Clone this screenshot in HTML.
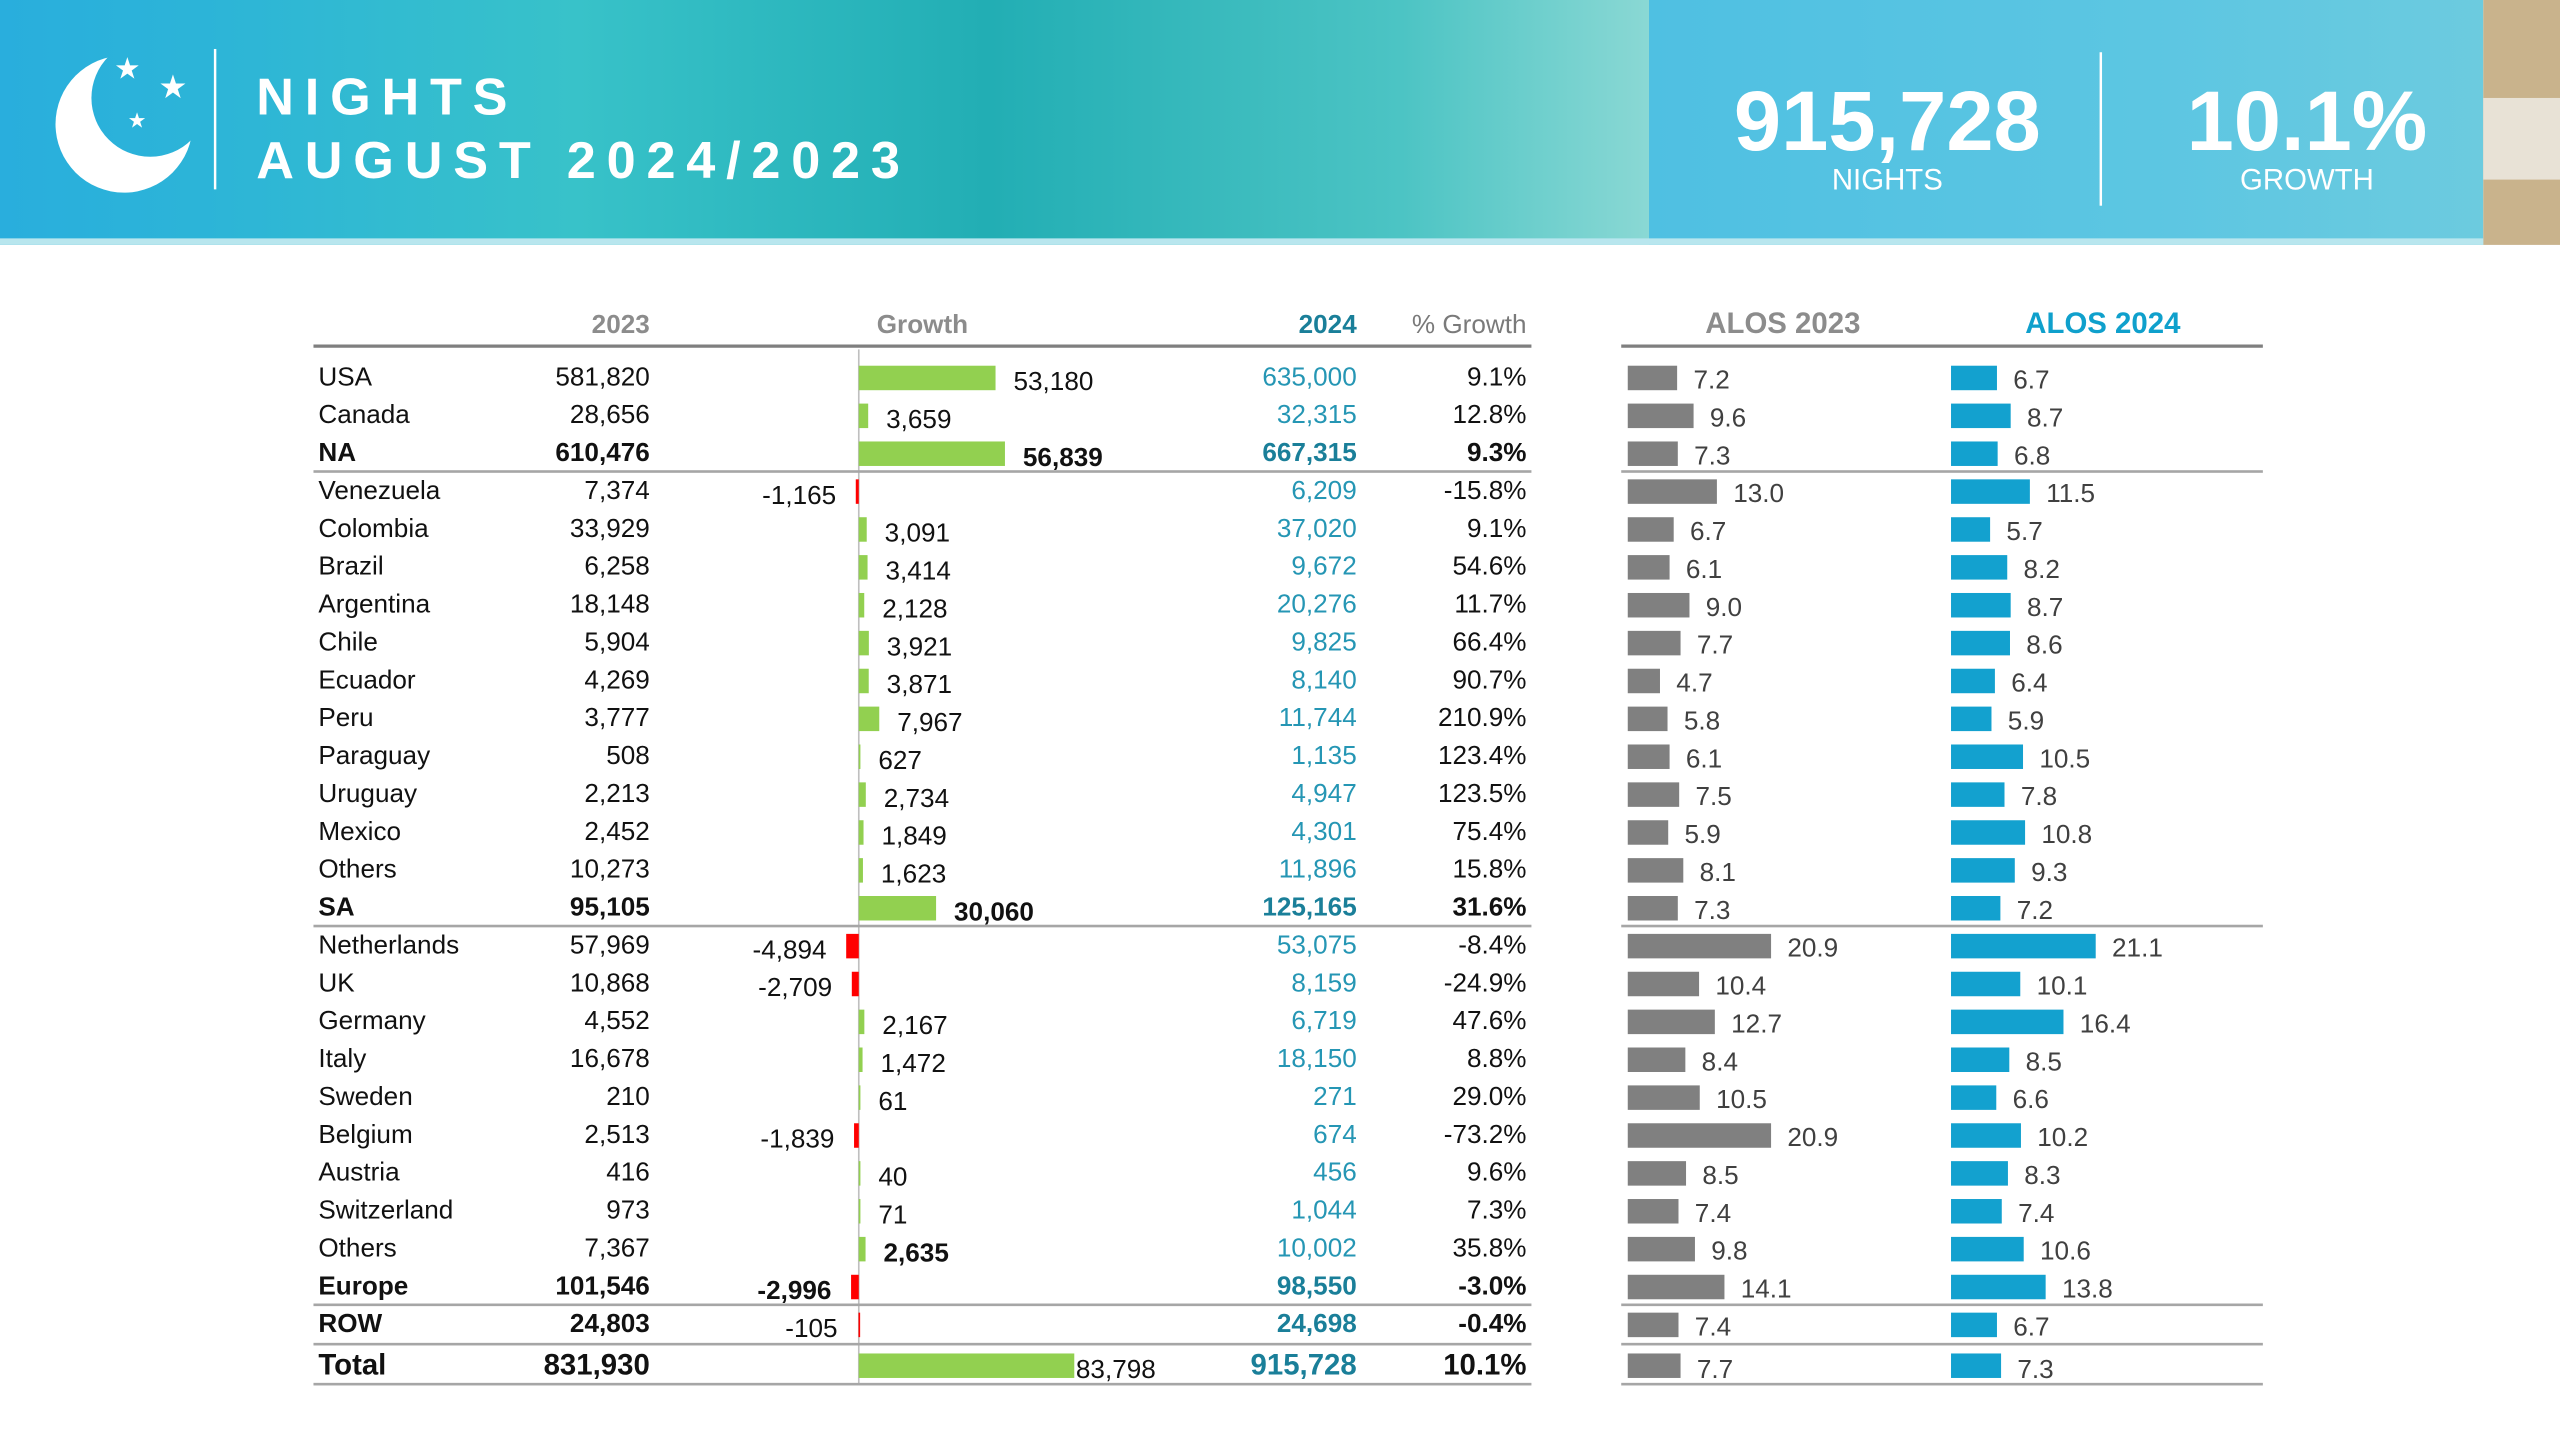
<!DOCTYPE html>
<html><head><meta charset="utf-8"><style>
html,body{margin:0;padding:0;background:#fff;}
svg{display:block;font-family:"Liberation Sans",Arial,sans-serif;}
</style></head><body>
<svg id="chart" width="2560" height="1440" viewBox="0 0 1568 882" xmlns="http://www.w3.org/2000/svg">
<defs>
<linearGradient id="sea" x1="0" y1="0" x2="1" y2="0">
<stop offset="0" stop-color="#29aedd"/><stop offset="0.12" stop-color="#2cb4d8"/>
<stop offset="0.35" stop-color="#38c2c9"/><stop offset="0.6" stop-color="#22aeb4"/>
<stop offset="0.85" stop-color="#4cc4c4"/><stop offset="1" stop-color="#8ad8d4"/>
</linearGradient>
<linearGradient id="panel" x1="0" y1="0" x2="1" y2="0">
<stop offset="0" stop-color="#4fc0e2"/><stop offset="0.6" stop-color="#5cc6e2"/><stop offset="1" stop-color="#6ccbdf"/>
</linearGradient>
<mask id="moonmask"><rect x="0" y="0" width="200" height="150" fill="#fff"/><circle cx="92" cy="60" r="36" fill="#000"/></mask>
</defs>
<g>
<rect x="0" y="0" width="1010" height="150" fill="url(#sea)"/>
<rect x="1010" y="0" width="511" height="150" fill="url(#panel)"/>
<rect x="1521" y="0" width="47" height="150" fill="#c9b38c"/>
<rect x="1521" y="60" width="47" height="50" fill="#e8e2d6"/>
<rect x="0" y="146" width="1521" height="4" fill="#b8e6ee"/>
<circle cx="76" cy="76" r="42" fill="#fff" mask="url(#moonmask)"/>
<text x="78" y="48" font-size="18" fill="#fff" text-anchor="middle">★</text>
<text x="106" y="60" font-size="20" fill="#fff" text-anchor="middle">★</text>
<text x="84" y="78" font-size="13" fill="#fff" text-anchor="middle">★</text>
<rect x="131" y="30" width="1.5" height="86" fill="#fff"/>
<text x="157" y="70" font-size="32" font-weight="bold" fill="#fff" letter-spacing="6.6">NIGHTS</text>
<text x="157" y="109" font-size="32" font-weight="bold" fill="#fff" letter-spacing="6.6">AUGUST 2024/2023</text>
<text x="1156" y="92" font-size="52" font-weight="bold" fill="#fff" text-anchor="middle">915,728</text>
<text x="1156" y="116" font-size="18" fill="#fff" text-anchor="middle">NIGHTS</text>
<rect x="1286" y="32" width="1.5" height="94" fill="#fff"/>
<text x="1413" y="92" font-size="52" font-weight="bold" fill="#fff" text-anchor="middle">10.1%</text>
<text x="1413" y="116" font-size="18" fill="#fff" text-anchor="middle">GROWTH</text>
</g>
<g font-weight="bold">
<text x="398" y="204" font-size="16" fill="#8c8c8c" text-anchor="end">2023</text>
<text x="565" y="204" font-size="16" fill="#8c8c8c" text-anchor="middle">Growth</text>
<text x="831" y="204" font-size="16" fill="#1a7f99" text-anchor="end">2024</text>
<text x="935" y="204" font-size="16" fill="#7a7a7a" text-anchor="end" font-weight="normal">% Growth</text>
<text x="1092" y="204" font-size="18" fill="#8c8c8c" text-anchor="middle">ALOS 2023</text>
<text x="1288" y="204" font-size="18" fill="#0fa0cc" text-anchor="middle">ALOS 2024</text>
<rect x="192" y="211" width="746" height="2" fill="#7f7f7f"/>
<rect x="993" y="211" width="393" height="2" fill="#7f7f7f"/>
</g>
<rect x="525.5" y="214" width="1" height="634" fill="#bfbfbf"/>
<g id="rows"></g>
</svg>
<script>
const names=["USA","Canada","NA","Venezuela","Colombia","Brazil","Argentina","Chile","Ecuador","Peru","Paraguay","Uruguay","Mexico","Others","SA","Netherlands","UK","Germany","Italy","Sweden","Belgium","Austria","Switzerland","Others","Europe","ROW","Total"];
const v2023=[581820,28656,610476,7374,33929,6258,18148,5904,4269,3777,508,2213,2452,10273,95105,57969,10868,4552,16678,210,2513,416,973,7367,101546,24803,831930];
const growth=[53180,3659,56839,-1165,3091,3414,2128,3921,3871,7967,627,2734,1849,1623,30060,-4894,-2709,2167,1472,61,-1839,40,71,2635,-2996,-105,83798];
const v2024=[635000,32315,667315,6209,37020,9672,20276,9825,8140,11744,1135,4947,4301,11896,125165,53075,8159,6719,18150,271,674,456,1044,10002,98550,24698,915728];
const pct=["9.1%","12.8%","9.3%","-15.8%","9.1%","54.6%","11.7%","66.4%","90.7%","210.9%","123.4%","123.5%","75.4%","15.8%","31.6%","-8.4%","-24.9%","47.6%","8.8%","29.0%","-73.2%","9.6%","7.3%","35.8%","-3.0%","-0.4%","10.1%"];
const alos23=[7.2,9.6,7.3,13.0,6.7,6.1,9.0,7.7,4.7,5.8,6.1,7.5,5.9,8.1,7.3,20.9,10.4,12.7,8.4,10.5,20.9,8.5,7.4,9.8,14.1,7.4,7.7];
const alos24=[6.7,8.7,6.8,11.5,5.7,8.2,8.7,8.6,6.4,5.9,10.5,7.8,10.8,9.3,7.2,21.1,10.1,16.4,8.5,6.6,10.2,8.3,7.4,10.6,13.8,6.7,7.3];
const boldRows=["NA","SA","Europe","ROW","Total"];
const NS="http://www.w3.org/2000/svg";
const g=document.getElementById('rows');
const fmt=n=>n.toLocaleString('en-US');
const gx=v=>526+v*132/83798;
const ax23=v=>997+v*4.2;
const ax24=v=>1195+v*4.2;
const rowY=i=>i===26?836:231+i*23.2;
function mk(tag,attrs,txt){const e=document.createElementNS(NS,tag);for(const k in attrs)e.setAttribute(k,attrs[k]);if(txt!==undefined)e.textContent=txt;g.appendChild(e);return e;}
names.forEach((n,i)=>{
  const y=rowY(i);const isB=boldRows.includes(n);const isTot=i===26;
  const fs=isTot?18:16;const fw=isB?"bold":"normal";const ty=y+5+(isTot?1:0);
  let e=mk('text',{x:195,y:ty,'font-size':fs,'font-weight':fw,fill:'#111'},n);
  
  e=mk('text',{x:398,y:ty,'font-size':fs,'font-weight':fw,fill:'#111','text-anchor':'end'},fmt(v2023[i]));
  
  const gv=growth[i];const x0=gx(0),x1=gx(gv);
  const bw=Math.max(Math.abs(x1-x0),1);
  e=mk('rect',{x:Math.min(x0,x1),y:y-7,width:bw,height:15,fill:gv>=0?'#92d050':'#ff0000'});
  
  const gb=(isB&&!isTot&&n!=="ROW")||(n==="Others"&&i===23)?"bold":"normal";
  if(gv>=0){e=mk('text',{x:Math.max(x1,x0+1)+(isTot?1:11),y:ty+3-(isTot?1:0),'font-size':16,'font-weight':gb,fill:'#111'},fmt(gv));}
  else{e=mk('text',{x:Math.min(x1,x0-1)-12,y:ty+3,'font-size':fs,'font-weight':gb,fill:'#111','text-anchor':'end'},fmt(gv));}
  
  e=mk('text',{x:831,y:ty,'font-size':fs,'font-weight':fw,fill:isB?'#1a7f99':'#2596b4','text-anchor':'end'},fmt(v2024[i]));
  
  e=mk('text',{x:935,y:ty,'font-size':fs,'font-weight':fw,fill:'#111','text-anchor':'end'},pct[i]);
  
  const a=alos23[i],b=alos24[i];
  e=mk('rect',{x:997,y:y-7,width:ax23(a)-997,height:15,fill:'#808080'});
  
  e=mk('text',{x:ax23(a)+10,y:ty+2,'font-size':16,fill:'#404040'},a.toFixed(1));
  
  e=mk('rect',{x:1195,y:y-7,width:ax24(b)-1195,height:15,fill:'#13a1cf'});
  
  e=mk('text',{x:ax24(b)+10,y:ty+2,'font-size':16,fill:'#404040'},b.toFixed(1));
  
});
[2,14,24,25,26].forEach(i=>{
  const y=i===26?848:(rowY(i)+rowY(i+1))/2;
  let e=mk('rect',{x:192,y:y-1,width:746,height:1.6,fill:'#a6a6a6'});
  
  e=mk('rect',{x:993,y:y-1,width:393,height:1.6,fill:'#a6a6a6'});
  
});
</script>
</body></html>
